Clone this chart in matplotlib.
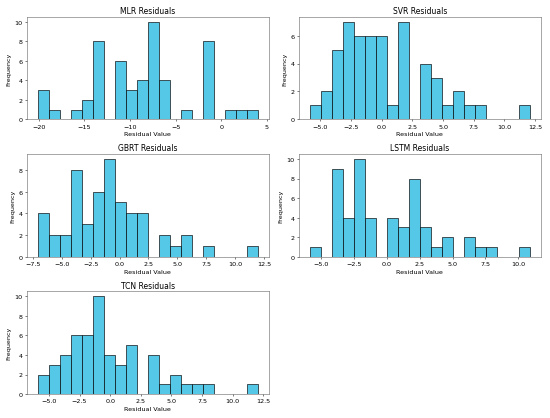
import numpy as np
import matplotlib.pyplot as plt
from matplotlib.ticker import MaxNLocator

# histogram counts (20 bins each)
models = ["MLR", "SVR", "GBRT", "LSTM", "TCN"]
bin_ranges = {
    "MLR": (-20.1, 4.0),
    "SVR": (-5.86, 12.06),
    "GBRT": (-7.07, 11.96),
    "LSTM": (-5.88, 10.86),
    "TCN": (-5.89, 12.04),
}
mlr_counts = [3, 1, 0, 1, 2, 8, 0, 6, 3, 4, 10, 4, 0, 1, 0, 8, 0, 1, 1, 1]
svr_counts = [1, 2, 5, 7, 6, 6, 6, 1, 7, 0, 4, 3, 1, 2, 1, 1, 0, 0, 0, 1]
gbrt_counts = [4, 2, 2, 8, 3, 6, 9, 5, 4, 4, 0, 2, 1, 2, 0, 1, 0, 0, 0, 1]
lstm_counts = [1, 0, 9, 4, 10, 4, 0, 4, 3, 8, 3, 1, 2, 0, 2, 1, 1, 0, 0, 1]
tcn_counts = [2, 3, 4, 6, 6, 10, 4, 3, 5, 0, 4, 1, 2, 1, 1, 1, 0, 0, 0, 1]
all_counts = [mlr_counts, svr_counts, gbrt_counts, lstm_counts, tcn_counts]

fig, axes = plt.subplots(3, 2, figsize=(12, 9.14), dpi=550 / 12)
axes = axes.flatten()

for i, (name, counts) in enumerate(zip(models, all_counts)):
    ax = axes[i]
    lo, hi = bin_ranges[name]
    edges = np.linspace(lo, hi, len(counts) + 1)
    centers = (edges[:-1] + edges[1:]) / 2
    ax.hist(centers, bins=edges, weights=counts, color='#55c8e8', edgecolor='black')
    ax.set_title(f'{name} Residuals')
    ax.set_xlabel('Residual Value')
    ax.set_ylabel('Frequency')
    ax.yaxis.set_major_locator(MaxNLocator(nbins=6, steps=[1, 2, 2.5, 5, 10]))
    for sp in ax.spines.values():
        sp.set_color('#555555')

fig.delaxes(axes[5])
plt.tight_layout()
plt.savefig('out.png')
